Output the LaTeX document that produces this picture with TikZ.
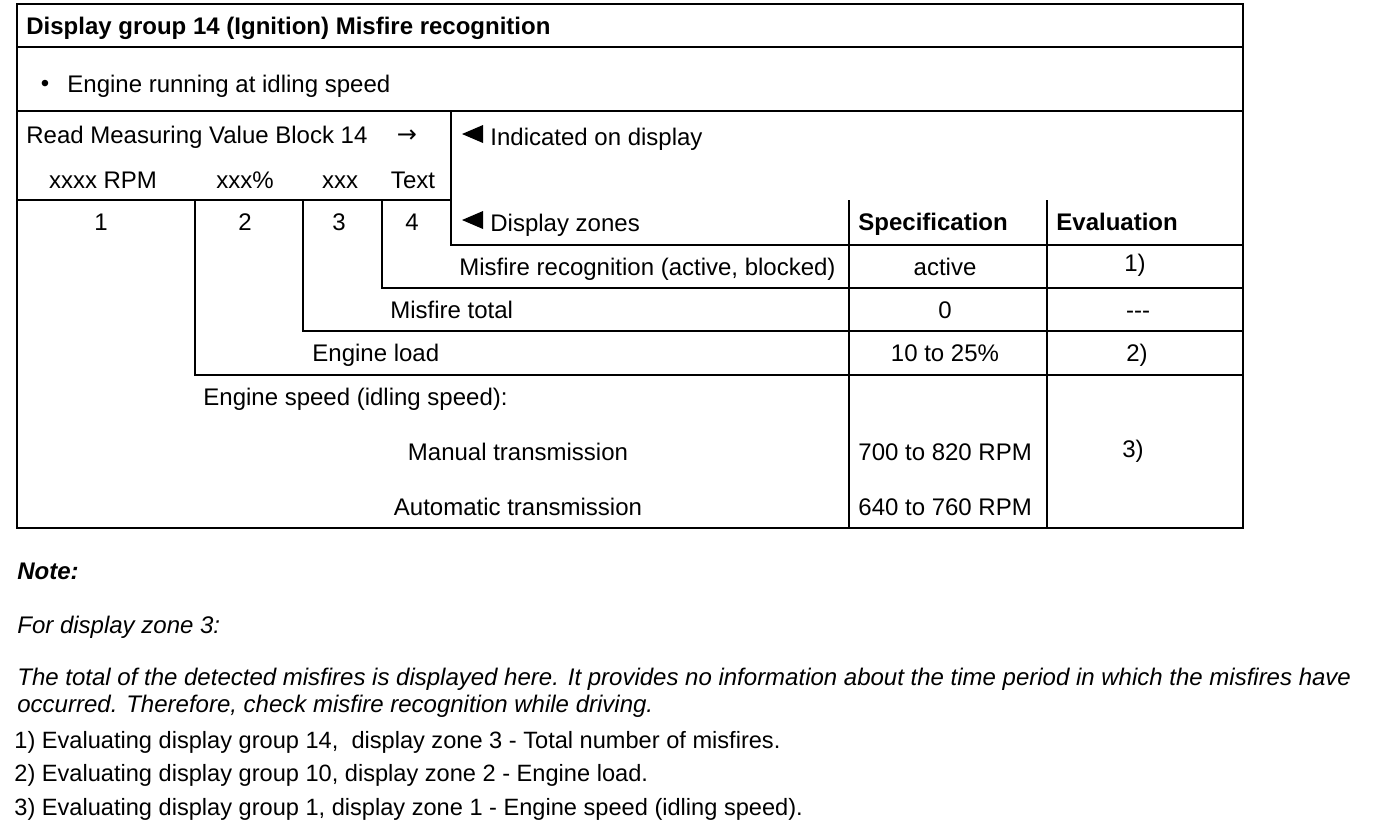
\documentclass[tikz,border=0pt]{standalone}
\usepackage{fontspec}
\setmainfont{Liberation Sans}
\newfontfamily\symfont{DejaVu Sans}

\begin{document}
\begin{tikzpicture}[x=0.5pt,y=-0.5pt,font=\fontsize{12}{14}\selectfont]
        \tikzstyle{lft}=[anchor=base west,inner sep=0pt]
        \tikzstyle{mid}=[anchor=base,inner sep=0pt]
        \tikzstyle{rule}=[line width=1pt]
        \tikzstyle{thin}=[line width=0.6pt]
        \tikzstyle{foot}=[lft,font=\fontsize{11.8}{14}\selectfont]
        \useasboundingbox (0,0) rectangle (1376,836);
        % frame and rules
        \draw[rule] (17,4) rectangle (1243,528);
        \draw[rule] (17,47) -- (1243,47);
        \draw[rule] (17,111) -- (1243,111);
        \draw[rule] (451,111) -- (451,245) -- (1243,245);
        \draw[rule] (17,200) -- (451,200);
        \draw[rule] (195,200) -- (195,375) -- (1243,375);
        \draw[rule,line width=1.4pt] (303,200) -- (303,331) -- (1243,331);
        \draw[rule] (382,200) -- (382,288) -- (1243,288);
        \draw[thin] (849,200) -- (849,528);
        \draw[thin] (1047,200) -- (1047,528);
        % header
        \node[lft,font=\fontsize{12}{14}\bfseries] (title) at (26,34) {Display group 14 (Ignition) Misfire recognition};
        \node[mid] (bullet) at (45,91) {\textbullet};
        \node[lft] (cond) at (67,92) {Engine running at idling speed};
        \node[lft] (block) at (26,143) {Read Measuring Value Block 14};
        \node[mid] (arrow) at (407,142) {\symfont →};
        \node[lft] (shown) at (490,145) {Indicated on display};
        \fill (462,134) -- (483,125) -- (483,143) -- cycle;
        \node[mid] (f1) at (103,188) {xxxx RPM};
        \node[mid] (f2) at (245,188) {xxx\%};
        \node[mid] (f3) at (340,188) {xxx};
        \node[mid] (f4) at (413,188) {Text};
        \node[mid] (z1) at (101,230) {1};
        \node[mid] (z2) at (245,230) {2};
        \node[mid] (z3) at (339,230) {3};
        \node[mid] (z4) at (412,230) {4};
        \node[lft] (zones) at (490,231) {Display zones};
        \fill (462,220) -- (483,211) -- (483,229) -- cycle;
        \node[lft,font=\fontsize{12}{14}\bfseries] (spec) at (858,230) {Specification};
        \node[lft,font=\fontsize{12}{14}\bfseries] (eval) at (1056,230) {Evaluation};
        % rows
        \node[lft] (r4) at (459,275) {Misfire recognition (active, blocked)};
        \node[mid] (s4) at (945,275) {active};
        \node[mid] (e4) at (1135,271) {1)};
        \node[lft] (r3) at (390,318) {Misfire total};
        \node[mid] (s3) at (945,318) {0};
        \node[mid] (e3) at (1138,318) {-{}-{}-};
        \node[lft] (r2) at (312,361) {Engine load};
        \node[mid] (s2) at (945,361) {10 to 25\%};
        \node[mid] (e2) at (1137,361) {2)};
        \node[lft] (r1) at (203,405) {Engine speed (idling speed):};
        \node[mid] (manual) at (518,460) {Manual transmission};
        \node[lft] (smanual) at (858,460) {700 to 820 RPM};
        \node[mid] (e1) at (1133,457) {3)};
        \node[mid] (auto) at (518,515) {Automatic transmission};
        \node[lft] (sauto) at (858,515) {640 to 760 RPM};
        % notes
        \node[lft,font=\fontsize{12}{14}\bfseries\itshape] (note) at (17,579) {Note:};
        \node[lft,font=\fontsize{12}{14}\itshape] (zone3) at (17,633) {For display zone 3:};
        \node[lft,font=\fontsize{12}{14}\itshape] (text1) at (17,685) {The total of the detected misfires is displayed here. It provides no information about the time period in which the misfires have};
        \node[lft,font=\fontsize{12}{14}\itshape] (text2) at (17,712) {occurred. Therefore, check misfire recognition while driving.};
        \node[foot] (fn1) at (14,748) {1) Evaluating display group 14,\ \ display zone 3 - Total number of misfires.};
        \node[foot] (fn2) at (14,781) {2) Evaluating display group 10, display zone 2 - Engine load.};
        \node[foot] (fn3) at (14,815) {3) Evaluating display group 1, display zone 1 - Engine speed (idling speed).};
\end{tikzpicture}
\end{document}
